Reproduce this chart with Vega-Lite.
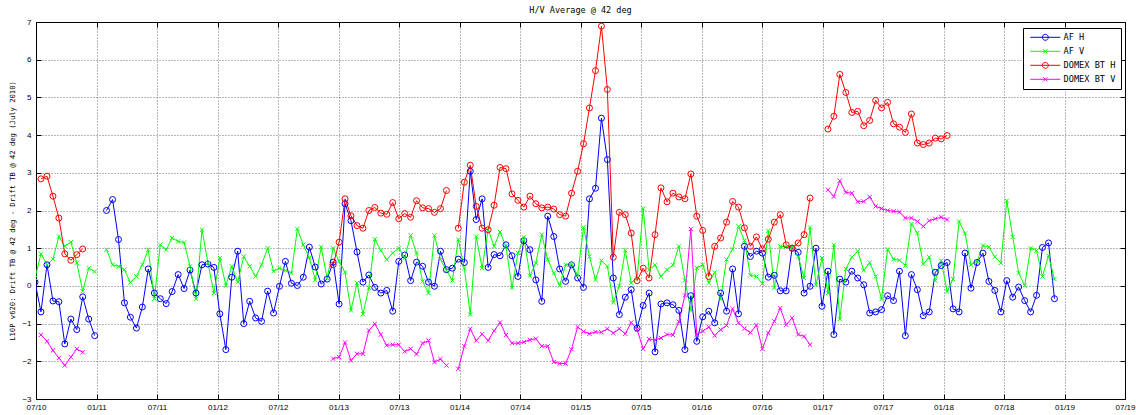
{
"$schema":"https://vega.github.io/schema/vega-lite/v6.json",
"width":1089,"height":377,
"autosize":{"type":"none"},
"padding":{"left":36,"top":22,"right":11,"bottom":16},
"background":"#ffffff",
"title":{"text":"H/V Average @ 42 deg","font":"DejaVu Sans Mono","fontSize":8.5,"fontWeight":"normal","color":"#000000","offset":4,"anchor":"middle"},
"config":{"view":{"stroke":"#000000","strokeWidth":1}},
"data":{"values":[
{"t":2010.492,"AF H":0.1,"AF V":0.21},
{"t":2010.541,"AF H":-0.69,"AF V":0.85,"DOMEX BT H":2.84,"DOMEX BT V":-1.3},
{"t":2010.591,"AF H":0.56,"AF V":0.56,"DOMEX BT H":2.91,"DOMEX BT V":-1.47},
{"t":2010.640,"AF H":-0.40,"AF V":0.71,"DOMEX BT H":2.38,"DOMEX BT V":-1.71},
{"t":2010.689,"AF H":-0.42,"AF V":1.31,"DOMEX BT H":1.80,"DOMEX BT V":-1.91},
{"t":2010.738,"AF H":-1.54,"AF V":1.05,"DOMEX BT H":0.85,"DOMEX BT V":-2.11},
{"t":2010.788,"AF H":-0.88,"AF V":1.16,"DOMEX BT H":0.68,"DOMEX BT V":-1.89},
{"t":2010.837,"AF H":-1.16,"AF V":0.61,"DOMEX BT H":0.83,"DOMEX BT V":-1.67},
{"t":2010.886,"AF H":-0.29,"AF V":-0.14,"DOMEX BT H":0.98,"DOMEX BT V":-1.76},
{"t":2010.936,"AF H":-0.88,"AF V":0.47},
{"t":2010.985,"AF H":-1.32,"AF V":0.38},
{"t":2011.034,"AF H":null,"AF V":null},
{"t":2011.083,"AF H":2.00,"AF V":0.96},
{"t":2011.133,"AF H":2.29,"AF V":0.56},
{"t":2011.182,"AF H":1.23,"AF V":0.52},
{"t":2011.231,"AF H":-0.45,"AF V":0.43},
{"t":2011.280,"AF H":-0.83,"AF V":0.09},
{"t":2011.330,"AF H":-1.12,"AF V":0.25},
{"t":2011.379,"AF H":-0.56,"AF V":0.56},
{"t":2011.428,"AF H":0.45,"AF V":0.96},
{"t":2011.478,"AF H":-0.19,"AF V":-0.34},
{"t":2011.527,"AF H":-0.34,"AF V":1.09},
{"t":2011.576,"AF H":-0.47,"AF V":0.96},
{"t":2011.625,"AF H":-0.15,"AF V":1.27},
{"t":2011.675,"AF H":0.30,"AF V":1.18},
{"t":2011.724,"AF H":-0.07,"AF V":1.15},
{"t":2011.773,"AF H":0.42,"AF V":0.52},
{"t":2011.822,"AF H":-0.19,"AF V":-0.34},
{"t":2011.872,"AF H":0.56,"AF V":1.49},
{"t":2011.921,"AF H":0.58,"AF V":0.61},
{"t":2011.970,"AF H":0.49,"AF V":-0.19},
{"t":2012.019,"AF H":-0.74,"AF V":0.74},
{"t":2012.069,"AF H":-1.69,"AF V":0.01},
{"t":2012.118,"AF H":0.23,"AF V":0.52},
{"t":2012.167,"AF H":0.92,"AF V":0.10},
{"t":2012.217,"AF H":-1.00,"AF V":0.78},
{"t":2012.266,"AF H":-0.41,"AF V":0.52},
{"t":2012.315,"AF H":-0.85,"AF V":0.25},
{"t":2012.364,"AF H":-0.94,"AF V":0.56},
{"t":2012.414,"AF H":-0.14,"AF V":1.00},
{"t":2012.463,"AF H":-0.72,"AF V":0.39},
{"t":2012.512,"AF H":-0.01,"AF V":0.47},
{"t":2012.561,"AF H":0.65,"AF V":0.41},
{"t":2012.611,"AF H":0.07,"AF V":0.34},
{"t":2012.660,"AF H":0.01,"AF V":1.51},
{"t":2012.709,"AF H":0.23,"AF V":1.09},
{"t":2012.759,"AF H":1.03,"AF V":0.74},
{"t":2012.808,"AF H":0.50,"AF V":0.16},
{"t":2012.857,"AF H":0.05,"AF V":1.03},
{"t":2012.906,"AF H":0.18,"AF V":0.20},
{"t":2012.956,"AF H":0.63,"AF V":1.00,"DOMEX BT H":0.56,"DOMEX BT V":-1.93},
{"t":2013.005,"AF H":-0.48,"AF V":0.65,"DOMEX BT H":1.16,"DOMEX BT V":-1.89},
{"t":2013.054,"AF H":2.18,"AF V":0.36,"DOMEX BT H":2.31,"DOMEX BT V":-1.50},
{"t":2013.103,"AF H":1.73,"AF V":-0.65,"DOMEX BT H":1.86,"DOMEX BT V":-1.98},
{"t":2013.153,"AF H":0.90,"AF V":0.08,"DOMEX BT H":1.60,"DOMEX BT V":-1.80},
{"t":2013.202,"AF H":0.10,"AF V":-0.75,"DOMEX BT H":1.53,"DOMEX BT V":-1.80},
{"t":2013.251,"AF H":0.29,"AF V":-0.05,"DOMEX BT H":2.00,"DOMEX BT V":-1.18},
{"t":2013.300,"AF H":-0.04,"AF V":1.24,"DOMEX BT H":2.08,"DOMEX BT V":-1.01},
{"t":2013.350,"AF H":-0.19,"AF V":0.94,"DOMEX BT H":1.93,"DOMEX BT V":-1.29},
{"t":2013.399,"AF H":-0.12,"AF V":0.70,"DOMEX BT H":1.90,"DOMEX BT V":-1.58},
{"t":2013.448,"AF H":-0.67,"AF V":0.87,"DOMEX BT H":2.21,"DOMEX BT V":-1.56},
{"t":2013.498,"AF H":0.65,"AF V":1.00,"DOMEX BT H":1.78,"DOMEX BT V":-1.56},
{"t":2013.547,"AF H":0.82,"AF V":0.74,"DOMEX BT H":1.92,"DOMEX BT V":-1.74},
{"t":2013.596,"AF H":0.14,"AF V":1.34,"DOMEX BT H":1.82,"DOMEX BT V":-1.67},
{"t":2013.645,"AF H":0.63,"AF V":0.87,"DOMEX BT H":2.26,"DOMEX BT V":-1.81},
{"t":2013.695,"AF H":0.52,"AF V":0.12,"DOMEX BT H":2.07,"DOMEX BT V":-1.52},
{"t":2013.744,"AF H":0.10,"AF V":-0.19,"DOMEX BT H":2.05,"DOMEX BT V":-1.45},
{"t":2013.793,"AF H":-0.01,"AF V":1.34,"DOMEX BT H":1.95,"DOMEX BT V":-2.02},
{"t":2013.843,"AF H":0.92,"AF V":0.70,"DOMEX BT H":2.05,"DOMEX BT V":-1.94},
{"t":2013.892,"AF H":0.43,"AF V":0.41,"DOMEX BT H":2.53,"DOMEX BT V":-2.11},
{"t":2013.941,"AF H":0.47,"AF V":0.14,"DOMEX BT H":null,"DOMEX BT V":null},
{"t":2013.990,"AF H":0.71,"AF V":1.23,"DOMEX BT H":1.53,"DOMEX BT V":-2.20},
{"t":2014.040,"AF H":0.62,"AF V":0.47,"DOMEX BT H":2.75,"DOMEX BT V":-1.60},
{"t":2014.089,"AF H":3.04,"AF V":-0.76,"DOMEX BT H":3.20,"DOMEX BT V":-1.14},
{"t":2014.138,"AF H":1.76,"AF V":1.31,"DOMEX BT H":2.11,"DOMEX BT V":-1.45},
{"t":2014.187,"AF H":2.31,"AF V":0.47,"DOMEX BT H":1.53,"DOMEX BT V":-1.28},
{"t":2014.237,"AF H":0.49,"AF V":1.49,"DOMEX BT H":1.49,"DOMEX BT V":-1.45},
{"t":2014.286,"AF H":0.83,"AF V":1.05,"DOMEX BT H":2.14,"DOMEX BT V":-1.19},
{"t":2014.335,"AF H":0.80,"AF V":1.43,"DOMEX BT H":3.14,"DOMEX BT V":-0.97},
{"t":2014.384,"AF H":1.09,"AF V":1.05,"DOMEX BT H":3.11,"DOMEX BT V":-1.30},
{"t":2014.434,"AF H":0.80,"AF V":-0.05,"DOMEX BT H":2.44,"DOMEX BT V":-1.52},
{"t":2014.483,"AF H":0.25,"AF V":0.87,"DOMEX BT H":2.27,"DOMEX BT V":-1.52},
{"t":2014.532,"AF H":1.20,"AF V":1.29,"DOMEX BT H":2.09,"DOMEX BT V":-1.49},
{"t":2014.582,"AF H":0.96,"AF V":0.27,"DOMEX BT H":2.38,"DOMEX BT V":-1.43},
{"t":2014.631,"AF H":0.16,"AF V":0.61,"DOMEX BT H":2.18,"DOMEX BT V":-1.40},
{"t":2014.680,"AF H":-0.41,"AF V":1.36,"DOMEX BT H":2.07,"DOMEX BT V":-1.60},
{"t":2014.729,"AF H":1.85,"AF V":0.70,"DOMEX BT H":2.09,"DOMEX BT V":-1.60},
{"t":2014.779,"AF H":1.31,"AF V":0.34,"DOMEX BT H":2.04,"DOMEX BT V":-2.02},
{"t":2014.828,"AF H":0.45,"AF V":0.01,"DOMEX BT H":1.89,"DOMEX BT V":-2.06},
{"t":2014.877,"AF H":0.12,"AF V":0.56,"DOMEX BT H":1.85,"DOMEX BT V":-2.06},
{"t":2014.926,"AF H":0.56,"AF V":0.58,"DOMEX BT H":2.46,"DOMEX BT V":-1.68},
{"t":2014.976,"AF H":0.21,"AF V":0.29,"DOMEX BT H":3.04,"DOMEX BT V":-1.09},
{"t":2015.025,"AF H":-0.04,"AF V":1.55,"DOMEX BT H":3.77,"DOMEX BT V":-1.21},
{"t":2015.074,"AF H":2.31,"AF V":0.78,"DOMEX BT H":4.72,"DOMEX BT V":-1.27},
{"t":2015.124,"AF H":2.59,"AF V":0.16,"DOMEX BT H":5.71,"DOMEX BT V":-1.22},
{"t":2015.173,"AF H":4.45,"AF V":0.67,"DOMEX BT H":6.89,"DOMEX BT V":-1.23},
{"t":2015.222,"AF H":3.35,"AF V":0.52,"DOMEX BT H":5.21,"DOMEX BT V":-1.14},
{"t":2015.271,"AF H":0.21,"AF V":-0.44,"DOMEX BT H":0.76,"DOMEX BT V":-1.25},
{"t":2015.321,"AF H":-0.76,"AF V":0.00,"DOMEX BT H":1.95,"DOMEX BT V":-1.14},
{"t":2015.370,"AF H":-0.30,"AF V":0.94,"DOMEX BT H":1.89,"DOMEX BT V":-1.27},
{"t":2015.419,"AF H":-0.10,"AF V":0.08,"DOMEX BT H":1.40,"DOMEX BT V":-0.97},
{"t":2015.468,"AF H":-1.12,"AF V":0.20,"DOMEX BT H":0.14,"DOMEX BT V":-1.16},
{"t":2015.518,"AF H":-0.52,"AF V":2.05,"DOMEX BT H":0.47,"DOMEX BT V":-1.67},
{"t":2015.567,"AF H":-0.19,"AF V":0.43,"DOMEX BT H":0.21,"DOMEX BT V":-1.41},
{"t":2015.616,"AF H":-1.75,"AF V":0.55,"DOMEX BT H":1.36,"DOMEX BT V":-1.43},
{"t":2015.665,"AF H":-0.48,"AF V":0.25,"DOMEX BT H":2.60,"DOMEX BT V":-1.38},
{"t":2015.715,"AF H":-0.45,"AF V":0.43,"DOMEX BT H":2.23,"DOMEX BT V":-1.29},
{"t":2015.764,"AF H":-0.50,"AF V":0.55,"DOMEX BT H":2.46,"DOMEX BT V":-1.30},
{"t":2015.813,"AF H":-0.65,"AF V":1.05,"DOMEX BT H":2.36,"DOMEX BT V":-0.95},
{"t":2015.863,"AF H":-1.69,"AF V":0.15,"DOMEX BT H":2.31,"DOMEX BT V":-0.25},
{"t":2015.912,"AF H":-0.26,"AF V":-0.65,"DOMEX BT H":2.97,"DOMEX BT V":1.51},
{"t":2015.961,"AF H":-1.47,"AF V":0.48,"DOMEX BT H":1.85,"DOMEX BT V":-1.29},
{"t":2016.010,"AF H":-0.82,"AF V":0.56,"DOMEX BT H":1.47,"DOMEX BT V":-1.20},
{"t":2016.060,"AF H":-0.67,"AF V":0.08,"DOMEX BT H":0.25,"DOMEX BT V":-1.09},
{"t":2016.109,"AF H":-0.98,"AF V":0.36,"DOMEX BT H":1.05,"DOMEX BT V":-1.32},
{"t":2016.158,"AF H":-0.19,"AF V":-0.35,"DOMEX BT H":1.27,"DOMEX BT V":-1.16},
{"t":2016.207,"AF H":-0.67,"AF V":0.70,"DOMEX BT H":1.69,"DOMEX BT V":-1.05},
{"t":2016.257,"AF H":0.45,"AF V":0.97,"DOMEX BT H":2.24,"DOMEX BT V":-0.61},
{"t":2016.306,"AF H":-0.74,"AF V":1.58,"DOMEX BT H":2.09,"DOMEX BT V":-0.98},
{"t":2016.355,"AF H":1.05,"AF V":1.20,"DOMEX BT H":1.54,"DOMEX BT V":-1.13},
{"t":2016.404,"AF H":0.78,"AF V":0.28,"DOMEX BT H":1.05,"DOMEX BT V":-1.24},
{"t":2016.454,"AF H":0.92,"AF V":0.25,"DOMEX BT H":1.30,"DOMEX BT V":-1.04},
{"t":2016.503,"AF H":0.87,"AF V":0.06,"DOMEX BT H":0.98,"DOMEX BT V":-1.67},
{"t":2016.552,"AF H":0.23,"AF V":1.46,"DOMEX BT H":1.24,"DOMEX BT V":-1.25},
{"t":2016.602,"AF H":0.28,"AF V":-0.05,"DOMEX BT H":1.69,"DOMEX BT V":-0.94},
{"t":2016.651,"AF H":-0.13,"AF V":1.05,"DOMEX BT H":1.89,"DOMEX BT V":-0.59},
{"t":2016.700,"AF H":-0.13,"AF V":1.04,"DOMEX BT H":1.09,"DOMEX BT V":-1.03},
{"t":2016.749,"AF H":1.00,"AF V":1.03,"DOMEX BT H":1.00,"DOMEX BT V":-0.85},
{"t":2016.799,"AF H":0.89,"AF V":0.78,"DOMEX BT H":1.14,"DOMEX BT V":-1.29},
{"t":2016.848,"AF H":-0.19,"AF V":0.21,"DOMEX BT H":1.36,"DOMEX BT V":-1.34},
{"t":2016.897,"AF H":-0.01,"AF V":1.55,"DOMEX BT H":2.33,"DOMEX BT V":-1.56},
{"t":2016.946,"AF H":1.00,"AF V":0.03},
{"t":2016.996,"AF H":-0.54,"AF V":0.74},
{"t":2017.045,"AF H":0.39,"AF V":-0.19,"DOMEX BT H":4.16,"DOMEX BT V":2.55},
{"t":2017.094,"AF H":-1.29,"AF V":1.09,"DOMEX BT H":4.50,"DOMEX BT V":2.37},
{"t":2017.143,"AF H":0.18,"AF V":-0.88,"DOMEX BT H":5.61,"DOMEX BT V":2.79},
{"t":2017.193,"AF H":0.10,"AF V":0.45,"DOMEX BT H":5.13,"DOMEX BT V":2.48},
{"t":2017.242,"AF H":0.39,"AF V":0.76,"DOMEX BT H":4.60,"DOMEX BT V":2.46},
{"t":2017.291,"AF H":0.21,"AF V":0.92,"DOMEX BT H":4.63,"DOMEX BT V":2.23},
{"t":2017.341,"AF H":0.03,"AF V":0.41,"DOMEX BT H":4.25,"DOMEX BT V":2.24},
{"t":2017.390,"AF H":-0.72,"AF V":0.62,"DOMEX BT H":4.39,"DOMEX BT V":2.36},
{"t":2017.439,"AF H":-0.69,"AF V":0.25,"DOMEX BT H":4.92,"DOMEX BT V":2.11},
{"t":2017.488,"AF H":-0.63,"AF V":-0.35,"DOMEX BT H":4.72,"DOMEX BT V":2.05},
{"t":2017.538,"AF H":-0.26,"AF V":0.97,"DOMEX BT H":4.87,"DOMEX BT V":2.00},
{"t":2017.587,"AF H":-0.39,"AF V":0.71,"DOMEX BT H":4.30,"DOMEX BT V":1.98},
{"t":2017.636,"AF H":0.39,"AF V":0.68,"DOMEX BT H":4.21,"DOMEX BT V":1.96},
{"t":2017.685,"AF H":-1.32,"AF V":0.54,"DOMEX BT H":4.07,"DOMEX BT V":1.80},
{"t":2017.735,"AF H":0.30,"AF V":1.64,"DOMEX BT H":4.56,"DOMEX BT V":1.80},
{"t":2017.784,"AF H":-0.10,"AF V":1.40,"DOMEX BT H":3.79,"DOMEX BT V":1.71},
{"t":2017.833,"AF H":-0.79,"AF V":0.58,"DOMEX BT H":3.75,"DOMEX BT V":1.58},
{"t":2017.882,"AF H":-0.69,"AF V":0.76,"DOMEX BT H":3.79,"DOMEX BT V":1.73},
{"t":2017.932,"AF H":0.36,"AF V":0.14,"DOMEX BT H":3.92,"DOMEX BT V":1.78},
{"t":2017.981,"AF H":0.54,"AF V":0.67,"DOMEX BT H":3.90,"DOMEX BT V":1.82},
{"t":2018.030,"AF H":0.62,"AF V":-0.15,"DOMEX BT H":3.99,"DOMEX BT V":1.76},
{"t":2018.079,"AF H":-0.61,"AF V":0.18},
{"t":2018.129,"AF H":-0.69,"AF V":1.71},
{"t":2018.178,"AF H":0.87,"AF V":1.39},
{"t":2018.227,"AF H":-0.06,"AF V":0.56},
{"t":2018.277,"AF H":0.62,"AF V":0.65},
{"t":2018.326,"AF H":0.87,"AF V":1.07},
{"t":2018.375,"AF H":0.12,"AF V":1.03},
{"t":2018.424,"AF H":-0.12,"AF V":0.77},
{"t":2018.474,"AF H":-0.69,"AF V":0.61},
{"t":2018.523,"AF H":0.14,"AF V":2.26},
{"t":2018.572,"AF H":-0.30,"AF V":1.30},
{"t":2018.621,"AF H":-0.03,"AF V":0.34},
{"t":2018.671,"AF H":-0.39,"AF V":0.01},
{"t":2018.720,"AF H":-0.69,"AF V":1.00},
{"t":2018.769,"AF H":-0.25,"AF V":0.94},
{"t":2018.818,"AF H":1.02,"AF V":0.25},
{"t":2018.868,"AF H":1.14,"AF V":0.80},
{"t":2018.917,"AF H":-0.34,"AF V":0.18}
]},
"transform":[{"fold":["AF H","AF V","DOMEX BT H","DOMEX BT V"],"as":["s","v"]}],
"layer":[
{
"mark":{"type":"line","strokeWidth":1,"clip":true,"invalid":"break-paths-filter-domains"},
"encoding":{
"x":{"field":"t","type":"quantitative","scale":{"domain":[2010.5,2019.5],"nice":false,"zero":false},
"axis":{"orient":"bottom","values":[2010.5,2011,2011.5,2012,2012.5,2013,2013.5,2014,2014.5,2015,2015.5,2016,2016.5,2017,2017.5,2018,2018.5,2019,2019.5],"labelExpr":"(datum.value % 1 > 0.25 ? '07/' : '01/') + (floor(datum.value) % 100)","grid":true,"gridColor":"#000000","gridDash":[1,2],"gridOpacity":0.55,"domain":false,"ticks":true,"tickSize":-5,"tickColor":"#000000","labelFont":"Liberation Sans","labelFontSize":8,"labelColor":"#000000","labelPadding":9,"labelFlush":false,"labelOverlap":false,"labelBound":false,"title":null}},
"y":{"field":"v","type":"quantitative","scale":{"domain":[-3,7],"nice":false,"zero":false},
"axis":{"orient":"left","values":[-3,-2,-1,0,1,2,3,4,5,6,7],"format":"d","grid":true,"gridColor":"#000000","gridDash":[1,2],"gridOpacity":0.55,"domain":false,"ticks":true,"tickSize":-5,"tickColor":"#000000","labelFont":"Liberation Sans","labelFontSize":8,"labelColor":"#000000","labelPadding":10,"labelOverlap":false,"labelBound":false,"title":"L10P v620: Drift TB @ 42 deg - Drift TB @ 42 deg (July 2010)","titleFont":"DejaVu Sans Mono","titleFontSize":7.2,"titleFontWeight":"normal","titleColor":"#000000","titlePadding":5}},
"color":{"field":"s","type":"nominal","scale":{"domain":["AF H","AF V","DOMEX BT H","DOMEX BT V"],"range":["#0000ff","#00ff00","#ff0000","#ff00ff"]},"legend":null}
}
},
{
"mark":{"type":"point","filled":false,"strokeWidth":1,"size":36,"opacity":1,"clip":true,"invalid":"filter"},
"encoding":{
"x":{"field":"t","type":"quantitative","axis":{"orient":"top","values":[2010.5,2011,2011.5,2012,2012.5,2013,2013.5,2014,2014.5,2015,2015.5,2016,2016.5,2017,2017.5,2018,2018.5,2019,2019.5],"labels":false,"grid":false,"domain":false,"tickSize":-5,"tickColor":"#000000","title":null}},
"y":{"field":"v","type":"quantitative","axis":{"orient":"right","values":[-3,-2,-1,0,1,2,3,4,5,6,7],"labels":false,"grid":false,"domain":false,"tickSize":-5,"tickColor":"#000000","title":null}},
"color":{"field":"s","type":"nominal","legend":null},
"shape":{"field":"s","type":"nominal","scale":{"domain":["AF H","AF V","DOMEX BT H","DOMEX BT V"],"range":["circle","M-0.7,-0.7L0.7,0.7M-0.7,0.7L0.7,-0.7","circle","M-0.7,-0.7L0.7,0.7M-0.7,0.7L0.7,-0.7"]},"legend":null}
}
},
{
"transform":[{"filter":"datum.t > 3000"}],
"mark":{"type":"point","filled":false,"strokeWidth":1,"size":36,"opacity":1},
"encoding":{
"x":{"field":"t","type":"quantitative","axis":null},
"y":{"field":"v","type":"quantitative","axis":null},
"color":{"field":"s","type":"nominal","legend":{"title":null,"orient":"none","legendX":987,"legendY":6,"direction":"vertical","padding":5,"strokeColor":"#000000","fillColor":"#ffffff","cornerRadius":0,"symbolSize":36,"symbolStrokeWidth":1,"symbolOffset":13,"labelOffset":14,"labelFont":"DejaVu Sans Mono","labelFontSize":8.6,"labelColor":"#000000","rowPadding":4}},
"shape":{"field":"s","type":"nominal","scale":{"domain":["AF H","AF V","DOMEX BT H","DOMEX BT V"],"range":["M-5,0L5,0M1,0A1,1,0,1,1,-1,0A1,1,0,1,1,1,0","M-5,0L5,0M-0.7,-0.7L0.7,0.7M-0.7,0.7L0.7,-0.7","M-5,0L5,0M1,0A1,1,0,1,1,-1,0A1,1,0,1,1,1,0","M-5,0L5,0M-0.7,-0.7L0.7,0.7M-0.7,0.7L0.7,-0.7"]},"legend":{"title":null,"orient":"none","legendX":987,"legendY":6,"direction":"vertical","padding":5,"strokeColor":"#000000","fillColor":"#ffffff","cornerRadius":0,"symbolSize":36,"symbolStrokeWidth":1,"symbolOffset":13,"labelOffset":14,"labelFont":"DejaVu Sans Mono","labelFontSize":8.6,"labelColor":"#000000","rowPadding":4}}
}
}
],
"resolve":{"scale":{"shape":"independent"},"axis":{"x":"independent","y":"independent"},"legend":{"color":"independent","shape":"independent"}}
}
